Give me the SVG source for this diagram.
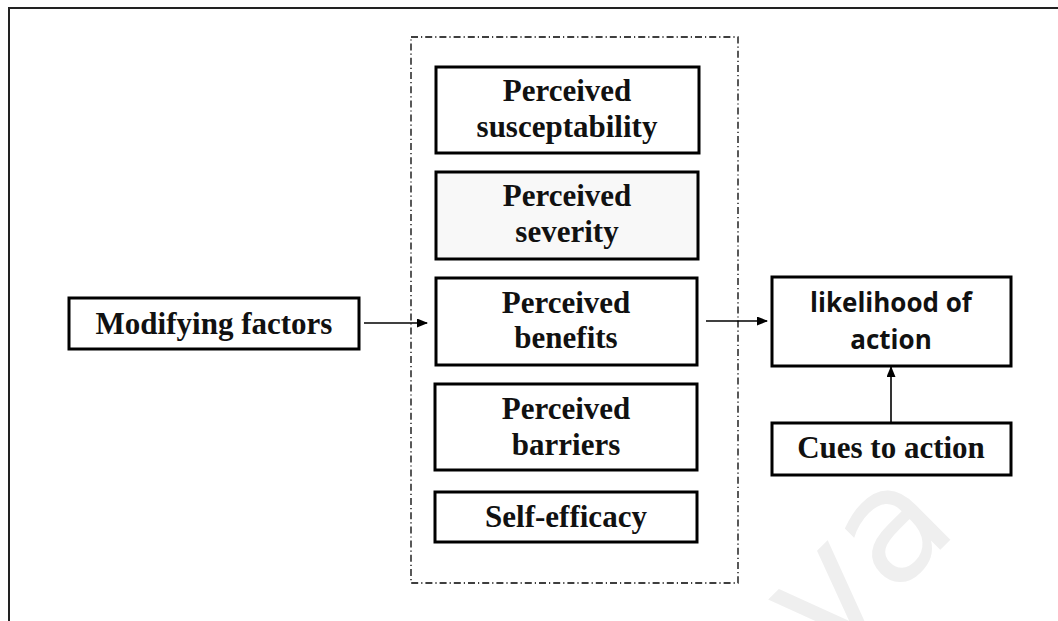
<svg xmlns="http://www.w3.org/2000/svg" width="1058" height="621" viewBox="0 0 1058 621">
  <defs>
    <marker id="arrow" markerWidth="11" markerHeight="9" refX="10" refY="4.5" orient="auto" markerUnits="userSpaceOnUse">
      <path d="M0,0 L11,4.5 L0,9 z" fill="#000"/>
    </marker>
    <style>
      .box { fill: #fff; stroke: #000; stroke-width: 3; }
      .serif { font-family: "Liberation Serif", "Times New Roman", serif; font-weight: bold; font-size: 31px; fill: #111; text-anchor: middle; }
      .sans { font-family: "Open Sans", "Liberation Sans", sans-serif; font-weight: bold; font-size: 26px; fill: #111; text-anchor: middle; }
      .link { stroke: #000; stroke-width: 1.6; fill: none; }
    </style>
  </defs>

  <rect x="0" y="0" width="1058" height="621" fill="#fff"/>

  <!-- watermark -->
  <text x="826" y="664" transform="rotate(-45 826 664)" font-family="DejaVu Sans, sans-serif" font-size="158" fill="#efefef">va</text>

  <!-- page frame -->
  <rect x="9" y="8" width="1070" height="640" fill="none" stroke="#222" stroke-width="2"/>

  <!-- grouping frame around the perceived factors -->
  <rect id="factor-group" x="411" y="37" width="327" height="546" fill="none" stroke="#000" stroke-width="1.3" stroke-dasharray="7 3 1.2 3"/>

  <g id="connectors">
    <line class="link" x1="364" y1="323" x2="427" y2="323" marker-end="url(#arrow)"/>
    <line class="link" x1="706" y1="321" x2="767" y2="321" marker-end="url(#arrow)"/>
    <line class="link" x1="891" y1="423" x2="891" y2="367" marker-end="url(#arrow)"/>
  </g>

  <g id="modifying-factors">
    <rect class="box" x="69" y="298" width="290" height="51"/>
    <text class="serif" x="214" y="334">Modifying factors</text>
  </g>

  <g id="perceived-susceptibility">
    <rect class="box" x="436" y="67" width="263" height="86"/>
    <text class="serif" x="567" y="101">Perceived</text>
    <text class="serif" x="567" y="137">susceptability</text>
  </g>

  <g id="perceived-severity">
    <rect class="box" x="436" y="172" width="262" height="87" style="fill:#f8f8f8"/>
    <text class="serif" x="567" y="206">Perceived</text>
    <text class="serif" x="567" y="242">severity</text>
  </g>

  <g id="perceived-benefits">
    <rect class="box" x="436" y="278" width="261" height="87"/>
    <text class="serif" x="566" y="313">Perceived</text>
    <text class="serif" x="566" y="348">benefits</text>
  </g>

  <g id="perceived-barriers">
    <rect class="box" x="435" y="384" width="262" height="86"/>
    <text class="serif" x="566" y="419">Perceived</text>
    <text class="serif" x="566" y="455">barriers</text>
  </g>

  <g id="self-efficacy">
    <rect class="box" x="435" y="492" width="262" height="50"/>
    <text class="serif" x="566" y="527">Self-efficacy</text>
  </g>

  <g id="likelihood-of-action">
    <rect class="box" x="772" y="277" width="239" height="89"/>
    <text class="sans" x="891" y="312">likelihood of</text>
    <text class="sans" x="891" y="349">action</text>
  </g>

  <g id="cues-to-action">
    <rect class="box" x="772" y="423" width="239" height="52"/>
    <text class="serif" x="891" y="458">Cues to action</text>
  </g>
</svg>
